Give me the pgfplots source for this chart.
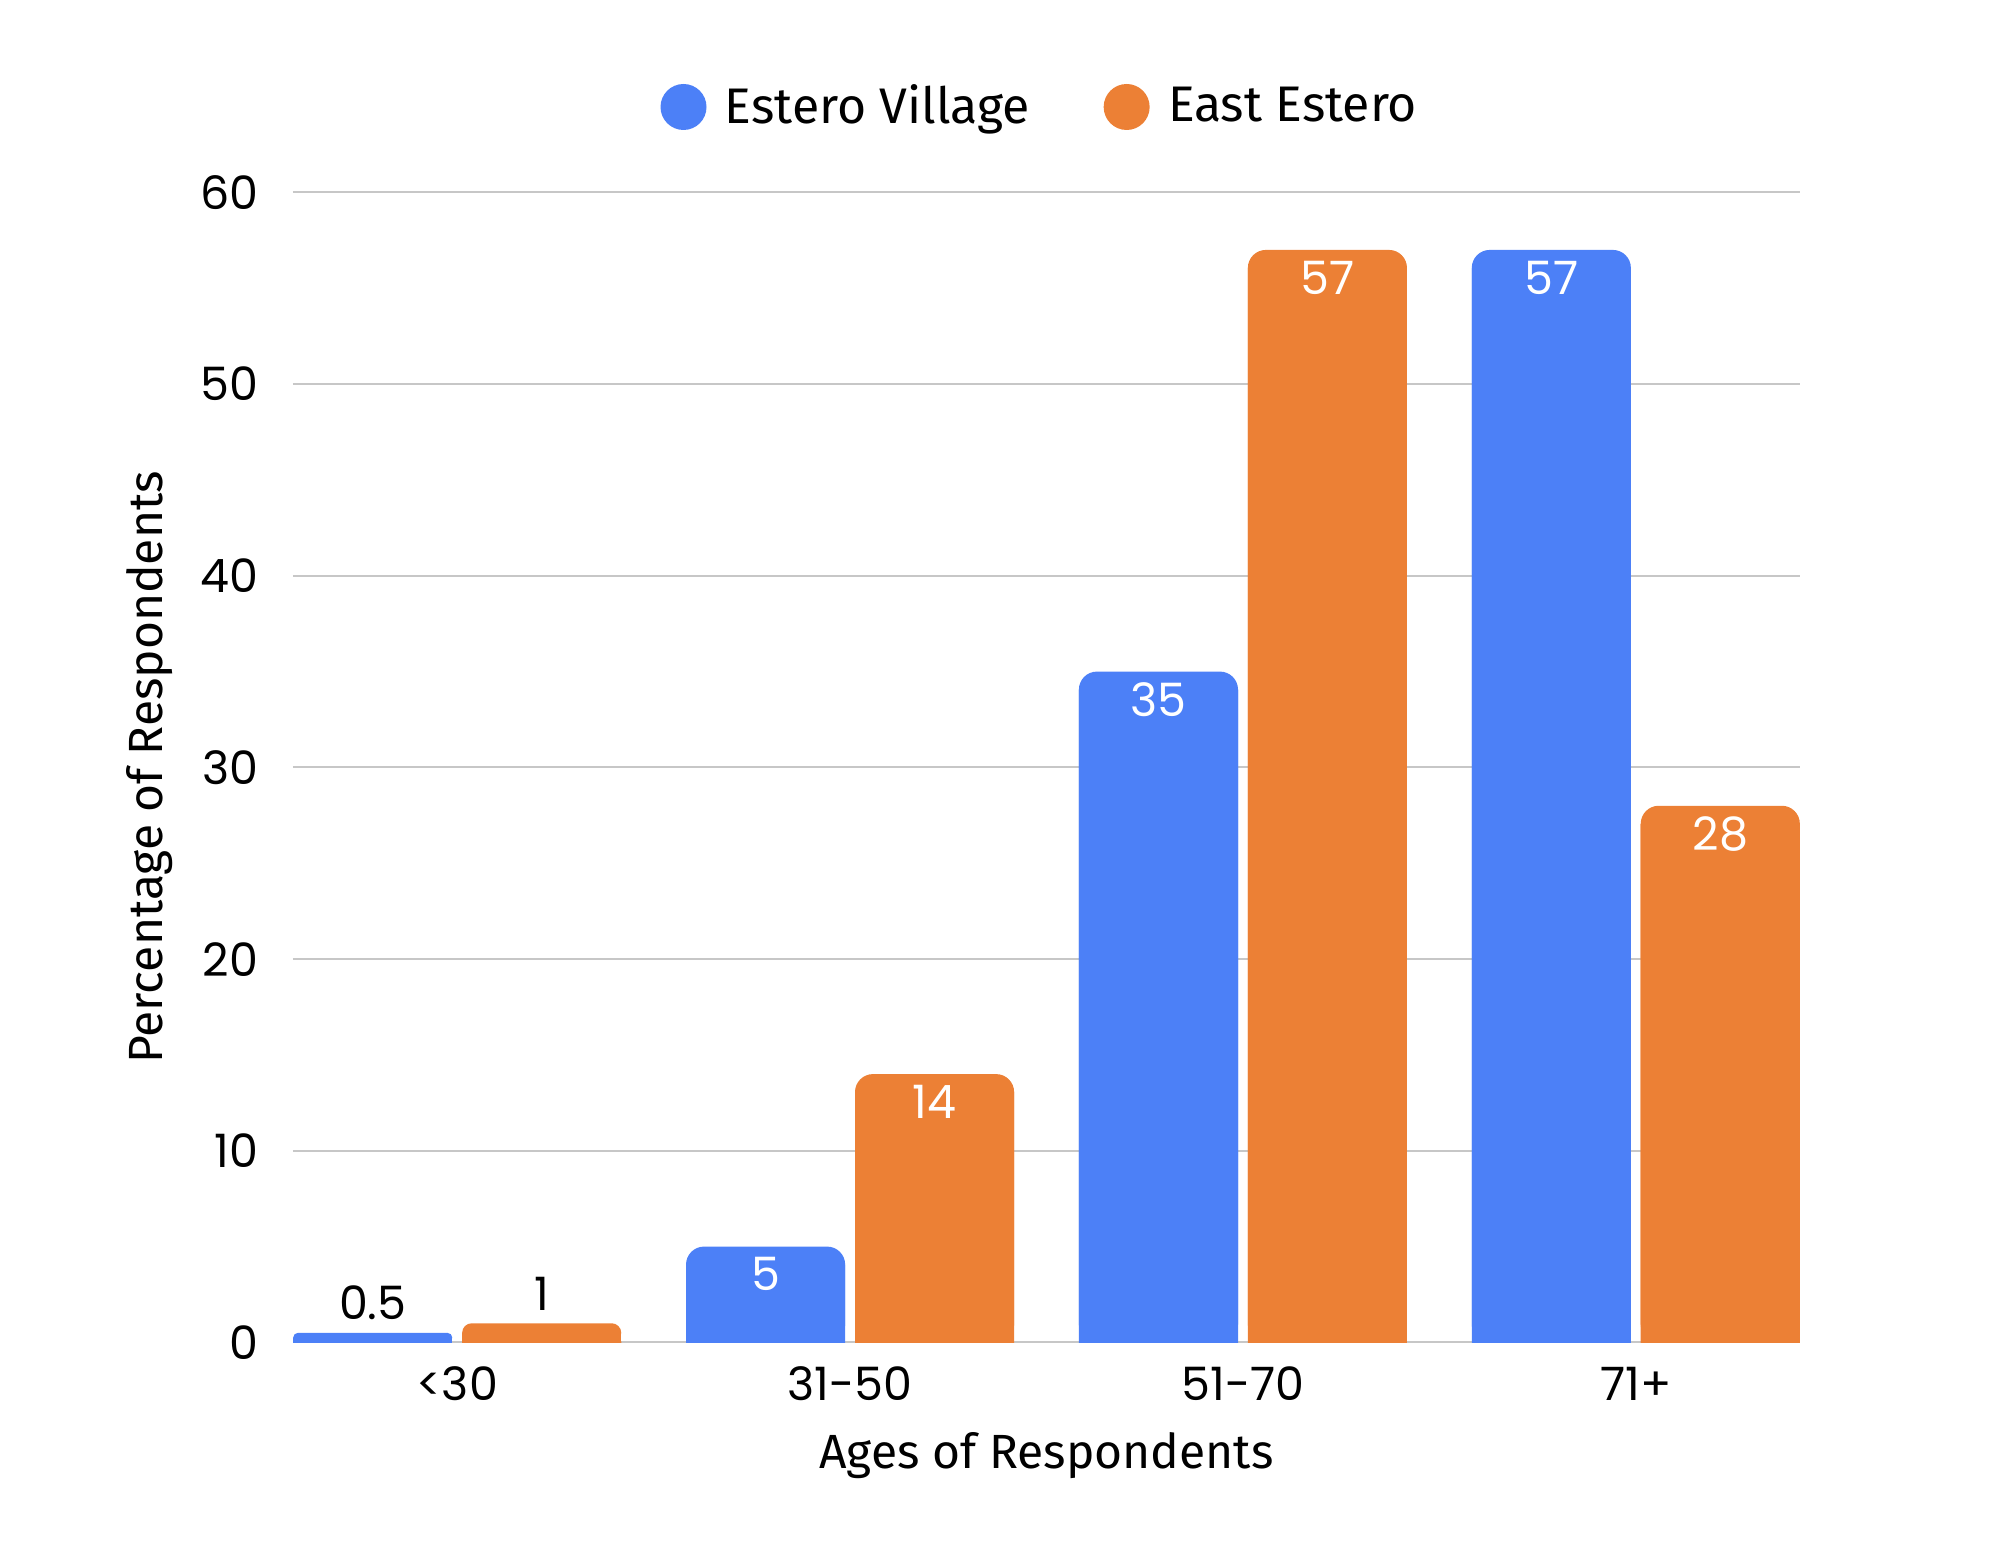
\documentclass[border=0pt]{standalone}
\usepackage{pgfplots}
\pgfplotsset{compat=1.18}
\usepackage{pgfplotstable}
\usepackage{fontspec}
\setmainfont{Fira Sans}
\newfontfamily\numfont{Poppins}
\definecolor{cblue}{HTML}{4C80F7}
\definecolor{corange}{HTML}{EC8035}
\pgfplotsset{
  dotlegend/.style={legend image code/.code={\fill[#1] (0pt,0pt) circle (5.75pt); \path (8.35pt,0pt);}},
  evbar/.style={ybar, fill=cblue, draw=none, bar width=39.78pt, bar shift=-21.12pt,
    every node near coord/.append style={xshift=-21.12pt}},
  eebar/.style={ybar, fill=corange, draw=none, bar width=39.78pt, bar shift=21.12pt,
    every node near coord/.append style={xshift=21.12pt}},
  firstonly/.style={skip coords between index={1}{4}},
  notfirst/.style={skip coords between index={0}{1}},
}
\tikzset{lblstyle/.code={\ifdim#1pt<3pt\relax\tikzset{anchor=south,text=black,inner sep=3pt}\else\tikzset{anchor=north,text=white,inner sep=2.5pt}\fi}}
\pgfplotstableread{
cat ev ee
0 0.5 1
1 5 14
2 35 57
3 57 28
}\agedata
\begin{document}
\begin{tikzpicture}
\path (-73.25pt,-50.75pt) rectangle (426.5pt,335.6pt);
\begin{axis}[
  scale only axis,
  width=376.75pt, height=287.5pt,
  ymin=0, ymax=60, xmin=-0.418, xmax=3.418,
  xtick={0,1,2,3}, xticklabels={{<30},{31-50},{51-70},{71+}},
  ytick={0,10,...,60},
  axis line style={draw=none},
  major tick length=0pt,
  ymajorgrids, grid style={draw=black!22, line width=0.5pt},
  /pgf/number format/assume math mode=true,
  tick label style={font=\numfont\fontsize{11.5}{13}\selectfont},
  xticklabel style={anchor=center, yshift=-10.25pt},
  yticklabel style={anchor=east, inner sep=0pt, xshift=-8.5pt},
  xlabel={Ages of Respondents},
  ylabel={Percentage of Respondents},
  label style={font=\fontsize{12}{14}\selectfont},
  xlabel style={at={(axis description cs:0.5,-0.0983)}, anchor=center},
  ylabel style={at={(axis description cs:-0.095,0.5)}, anchor=center},
  legend style={at={(axis description cs:0.4975,1.0743)}, anchor=center, draw=none, fill=none,
    legend columns=2, font=\fontsize{12.5}{14}\selectfont,
    /tikz/every even column/.append style={column sep=16.5pt}},
  visualization depends on={rawy \as \rawy},
  nodes near coords,
  every node near coord/.append style={font=\numfont\fontsize{11.5}{13}\selectfont, lblstyle=\rawy},
]
% square-bottom fill under the rounded bars
\addplot[evbar, yshift=-4.5pt, forget plot, nodes near coords=] table[x=cat, y=ev] {\agedata};
\addplot[eebar, yshift=-4.5pt, forget plot, nodes near coords=] table[x=cat, y=ee] {\agedata};
\addplot[evbar, firstonly, yshift=-1.2pt, forget plot, nodes near coords=] table[x=cat, y=ev] {\agedata};
\addplot[eebar, firstonly, yshift=-2.4pt, forget plot, nodes near coords=] table[x=cat, y=ee] {\agedata};
% rounded bars with labels
\addplot[evbar, notfirst, rounded corners=4.5pt, dotlegend=cblue] table[x=cat, y=ev] {\agedata};
\addlegendentry{Estero Village}
\addplot[eebar, notfirst, rounded corners=4.5pt, dotlegend=corange] table[x=cat, y=ee] {\agedata};
\addlegendentry{East Estero}
\addplot[evbar, firstonly, rounded corners=1.2pt, forget plot] table[x=cat, y=ev] {\agedata};
\addplot[eebar, firstonly, rounded corners=2.4pt, forget plot] table[x=cat, y=ee] {\agedata};
\end{axis}
\end{tikzpicture}
\end{document}
